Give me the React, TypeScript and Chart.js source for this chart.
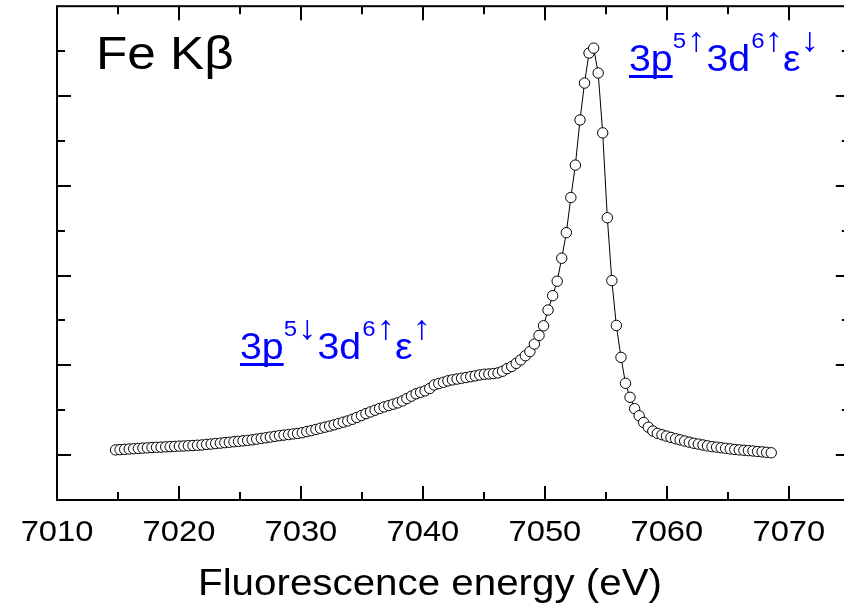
import React, { useEffect, useRef } from "react";
import { Chart, registerables } from "chart.js";

Chart.register(...registerables);

// Fluorescence energy (eV)
const energies: number[] = [
  7014.80, 7015.17, 7015.55, 7015.92, 7016.29, 7016.67, 7017.04, 7017.41, 7017.79, 7018.16,
  7018.53, 7018.91, 7019.28, 7019.65, 7020.03, 7020.40, 7020.77, 7021.15, 7021.52, 7021.89,
  7022.27, 7022.64, 7023.01, 7023.39, 7023.76, 7024.13, 7024.51, 7024.88, 7025.25, 7025.63,
  7026.00, 7026.37, 7026.75, 7027.12, 7027.49, 7027.87, 7028.24, 7028.61, 7028.99, 7029.36,
  7029.73, 7030.11, 7030.48, 7030.85, 7031.23, 7031.60, 7031.97, 7032.35, 7032.72, 7033.09,
  7033.47, 7033.84, 7034.21, 7034.58, 7034.96, 7035.33, 7035.70, 7036.08, 7036.45, 7036.82,
  7037.20, 7037.57, 7037.94, 7038.32, 7038.69, 7039.06, 7039.44, 7039.81, 7040.18, 7040.56,
  7040.93, 7041.30, 7041.68, 7042.05, 7042.42, 7042.80, 7043.17, 7043.54, 7043.92, 7044.29,
  7044.66, 7045.04, 7045.41, 7045.78, 7046.16, 7046.53, 7046.90, 7047.28, 7047.65, 7048.02,
  7048.40, 7048.77, 7049.14, 7049.52, 7049.89, 7050.26, 7050.64, 7051.01, 7051.38, 7051.76,
  7052.13, 7052.50, 7052.88, 7053.25, 7053.62, 7054.00, 7054.37, 7054.74, 7055.12, 7055.49,
  7055.86, 7056.24, 7056.61, 7056.98, 7057.36, 7057.73, 7058.10, 7058.48, 7058.85, 7059.22,
  7059.60, 7059.97, 7060.34, 7060.72, 7061.09, 7061.46, 7061.84, 7062.21, 7062.58, 7062.96,
  7063.33, 7063.70, 7064.08, 7064.45, 7064.82, 7065.20, 7065.57, 7065.94, 7066.32, 7066.69,
  7067.06, 7067.44, 7067.81, 7068.18, 7068.56,
];

// Intensity (arbitrary units)
const intensity: number[] = [
  0.058, 0.061, 0.064, 0.068, 0.071, 0.074, 0.078, 0.081, 0.084, 0.087,
  0.089, 0.092, 0.094, 0.097, 0.100, 0.102, 0.105, 0.107, 0.110, 0.113,
  0.119, 0.123, 0.129, 0.133, 0.139, 0.143, 0.149, 0.153, 0.159, 0.164,
  0.170, 0.178, 0.186, 0.193, 0.201, 0.209, 0.217, 0.223, 0.229, 0.236,
  0.241, 0.250, 0.262, 0.273, 0.286, 0.299, 0.311, 0.323, 0.337, 0.352,
  0.367, 0.381, 0.399, 0.420, 0.441, 0.462, 0.481, 0.500, 0.519, 0.537,
  0.552, 0.567, 0.582, 0.603, 0.630, 0.657, 0.683, 0.700, 0.716, 0.742,
  0.782, 0.797, 0.811, 0.827, 0.838, 0.847, 0.856, 0.864, 0.874, 0.883,
  0.893, 0.901, 0.904, 0.908, 0.916, 0.934, 0.963, 0.987, 1.022, 1.061,
  1.107, 1.153, 1.237, 1.333, 1.440, 1.616, 1.776, 1.937, 2.193, 2.478,
  2.869, 3.230, 3.733, 4.144, 4.478, 4.533, 4.256, 3.589, 2.644, 1.944,
  1.444, 1.089, 0.800, 0.644, 0.517, 0.438, 0.363, 0.311, 0.268, 0.242,
  0.227, 0.212, 0.197, 0.182, 0.170, 0.157, 0.144, 0.132, 0.123, 0.113,
  0.103, 0.094, 0.089, 0.082, 0.076, 0.069, 0.063, 0.058, 0.054, 0.050,
  0.046, 0.040, 0.036, 0.031, 0.026,
];

const xMajorTicks: number[] = [7010, 7020, 7030, 7040, 7050, 7060, 7070];
const xMinorTicks: number[] = [7015, 7025, 7035, 7045, 7055, 7065];
const xTickLabels: string[] = ["7010", "7020", "7030", "7040", "7050", "7060", "7070"];
const yMajorTicks: number[] = [0, 1, 2, 3, 4];
const yMinorTicks: number[] = [0.5, 1.5, 2.5, 3.5, 4.5];

const xTitle = "Fluorescence energy (eV)";
const panelLabel = "Fe K\u03B2";

const FONT = '"Liberation Sans", Arial, Helvetica, sans-serif';
const SX = 1.09;
const BLUE = "#0000ff";

type Seg = { text: string; size: number; dy: number; underline?: boolean; pad?: number };

const annoRight: Seg[] = [
  { text: "3p", size: 36, dy: 0, underline: true },
  { text: "5", size: 22, dy: -23, pad: 1 },
  { text: "\u2191", size: 34, dy: -20, pad: 1 },
  { text: "3d", size: 36, dy: 0, pad: 1 },
  { text: "6", size: 22, dy: -23, pad: 0 },
  { text: "\u2191", size: 34, dy: -20, pad: 0 },
  { text: "\u03B5", size: 36, dy: 0, pad: 0 },
  { text: "\u2193", size: 34, dy: -20 },
];
const annoLeft: Seg[] = [
  { text: "3p", size: 36, dy: 0, underline: true },
  { text: "5", size: 22, dy: -23, pad: 1 },
  { text: "\u2193", size: 34, dy: -20, pad: 1 },
  { text: "3d", size: 36, dy: 0, pad: 1 },
  { text: "6", size: 22, dy: -23, pad: 1 },
  { text: "\u2191", size: 34, dy: -20, pad: 0 },
  { text: "\u03B5", size: 36, dy: 0, pad: 0 },
  { text: "\u2191", size: 34, dy: -20 },
];

function drawText(ctx: CanvasRenderingContext2D, text: string, x: number, y: number, size: number, align: CanvasTextAlign, color: string) {
  ctx.save();
  ctx.font = `${size}px ${FONT}`;
  ctx.fillStyle = color;
  ctx.textAlign = align;
  ctx.textBaseline = "alphabetic";
  ctx.translate(x, y);
  ctx.scale(SX, 1);
  ctx.fillText(text, 0, 0);
  ctx.restore();
}

function drawRich(ctx: CanvasRenderingContext2D, x: number, y: number, segs: Seg[]) {
  let cx = x;
  for (const s of segs) {
    ctx.save();
    ctx.font = `${s.size}px ${FONT}`;
    const w = ctx.measureText(s.text).width * SX;
    ctx.restore();
    drawText(ctx, s.text, cx, y + s.dy, s.size, "left", BLUE);
    if (s.underline) {
      ctx.save();
      ctx.fillStyle = BLUE;
      ctx.fillRect(cx, y + 4, w, 3);
      ctx.restore();
    }
    cx += w + (s.pad || 0);
  }
}

const framePlugin = {
  id: "frameAndLabels",
  afterDraw(chart: any) {
    const ctx: CanvasRenderingContext2D = chart.ctx;
    const { left, right, top, bottom } = chart.chartArea;
    const xs = chart.scales.x;
    const ys = chart.scales.y;
    ctx.save();
    ctx.strokeStyle = "#000";
    ctx.lineWidth = 2;
    ctx.lineCap = "butt";
    ctx.strokeRect(left, top, right - left, bottom - top);
    const tick = (x1: number, y1: number, x2: number, y2: number) => {
      ctx.beginPath();
      ctx.moveTo(x1, y1);
      ctx.lineTo(x2, y2);
      ctx.stroke();
    };
    const MAJ = 14;
    const MIN = 8;
    xMajorTicks.forEach((v) => {
      const p = Math.round(xs.getPixelForValue(v));
      tick(p, bottom, p, bottom - MAJ);
      tick(p, top, p, top + MAJ);
    });
    xMinorTicks.forEach((v) => {
      const p = Math.round(xs.getPixelForValue(v));
      tick(p, bottom, p, bottom - MIN);
      tick(p, top, p, top + MIN);
    });
    yMajorTicks.forEach((v) => {
      const p = Math.round(ys.getPixelForValue(v));
      tick(left, p, left + MAJ, p);
      tick(right, p, right - MAJ, p);
    });
    yMinorTicks.forEach((v) => {
      const p = Math.round(ys.getPixelForValue(v));
      tick(left, p, left + MIN, p);
      tick(right, p, right - MIN, p);
    });
    ctx.restore();

    xMajorTicks.forEach((v, i) => {
      const p = xs.getPixelForValue(v);
      drawText(ctx, xTickLabels[i], p, bottom + 41, 30, "center", "#000");
    });
    drawText(ctx, xTitle, 430, 595, 37, "center", "#000");
    drawText(ctx, panelLabel, 96, 69, 47, "left", "#000");
    drawRich(ctx, 629, 71, annoRight);
    drawRich(ctx, 240, 359, annoLeft);
  },
};

export default function App() {
  const ref = useRef<HTMLCanvasElement | null>(null);
  useEffect(() => {
    if (!ref.current) return;
    const points = energies.map((e, i) => ({ x: e, y: intensity[i] }));
    const chart = new Chart(ref.current, {
      type: "line",
      data: {
        datasets: [
          {
            data: points,
            borderColor: "#000",
            borderWidth: 1,
            pointRadius: 5.2,
            pointBorderWidth: 1,
            pointBackgroundColor: "#fff",
            pointBorderColor: "#000",
            tension: 0,
            fill: false,
          },
        ],
      },
      options: {
        animation: false,
        responsive: false,
        maintainAspectRatio: false,
        devicePixelRatio: 1,
        layout: { padding: { left: 57, top: 5, right: 6, bottom: 105 } },
        plugins: { legend: { display: false }, tooltip: { enabled: false } },
        scales: {
          x: { type: "linear", min: 7010, max: 7075, display: false },
          y: { type: "linear", min: -0.5, max: 5.0, display: false },
        },
      },
      plugins: [framePlugin],
    });
    return () => chart.destroy();
  }, []);
  return (
    <div style={{ position: "fixed", left: 0, top: 0, width: 844, height: 605, overflow: "hidden", background: "#fff" }}>
      <canvas ref={ref} width={856} height={605} style={{ display: "block", width: 856, height: 605 }} />
    </div>
  );
}
